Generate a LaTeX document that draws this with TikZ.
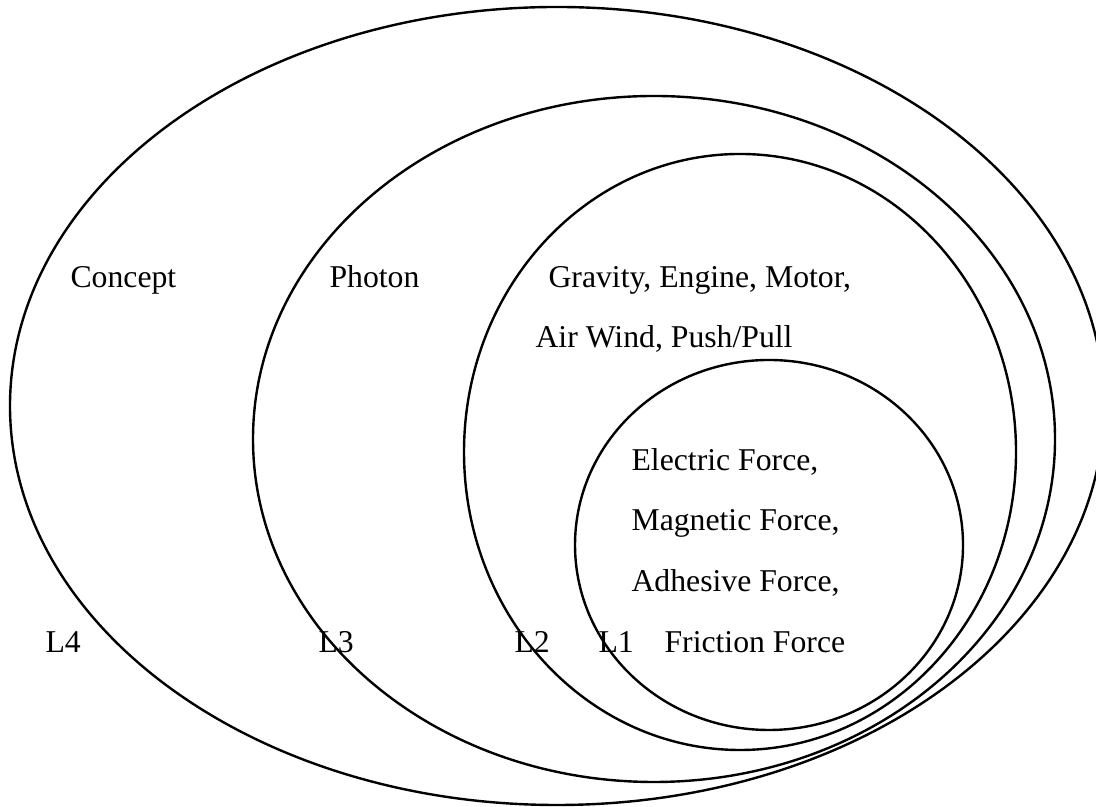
\documentclass[tikz,border=0pt]{standalone}
\usepackage{fontspec}
\setmainfont{Liberation Serif}
\usepackage{tikz}

\begin{document}
\begin{tikzpicture}[
  x=0.375pt, y=0.375pt,
  ring/.style={draw=black, line width=0.9pt},
  lbl/.style={anchor=base west, inner sep=0pt, font=\fontsize{11.9}{14}\selectfont}
]
\useasboundingbox (0,0) rectangle (1096,807);

% nested levels, outer to inner
\draw[ring] (557,401) ellipse [x radius=547, y radius=399];
\draw[ring] (654,368) ellipse [x radius=401, y radius=343];
\draw[ring] (740,355) ellipse [x radius=276, y radius=298];
\draw[ring] (769,262) ellipse [x radius=194, y radius=185];

\node[lbl] (concept) at (70,519) {Concept};
\node[lbl] (photon) at (329,519) {Photon};
\node[lbl] (gravity) at (548,519) {Gravity, Engine, Motor,};
\node[lbl] (airwind) at (535,459) {Air Wind, Push/Pull};
\node[lbl] (electric) at (631,336) {Electric Force,};
\node[lbl] (magnetic) at (631,276) {Magnetic Force,};
\node[lbl] (adhesive) at (631,215) {Adhesive Force,};
\node[lbl] (friction) at (664,154) {Friction Force};

\node[lbl] (l4) at (45,154) {L4};
\node[lbl] (l3) at (318,154) {L3};
\node[lbl] (l2) at (514,154) {L2};
\node[lbl] (l1) at (598,154) {L1};

\end{tikzpicture}
\end{document}
